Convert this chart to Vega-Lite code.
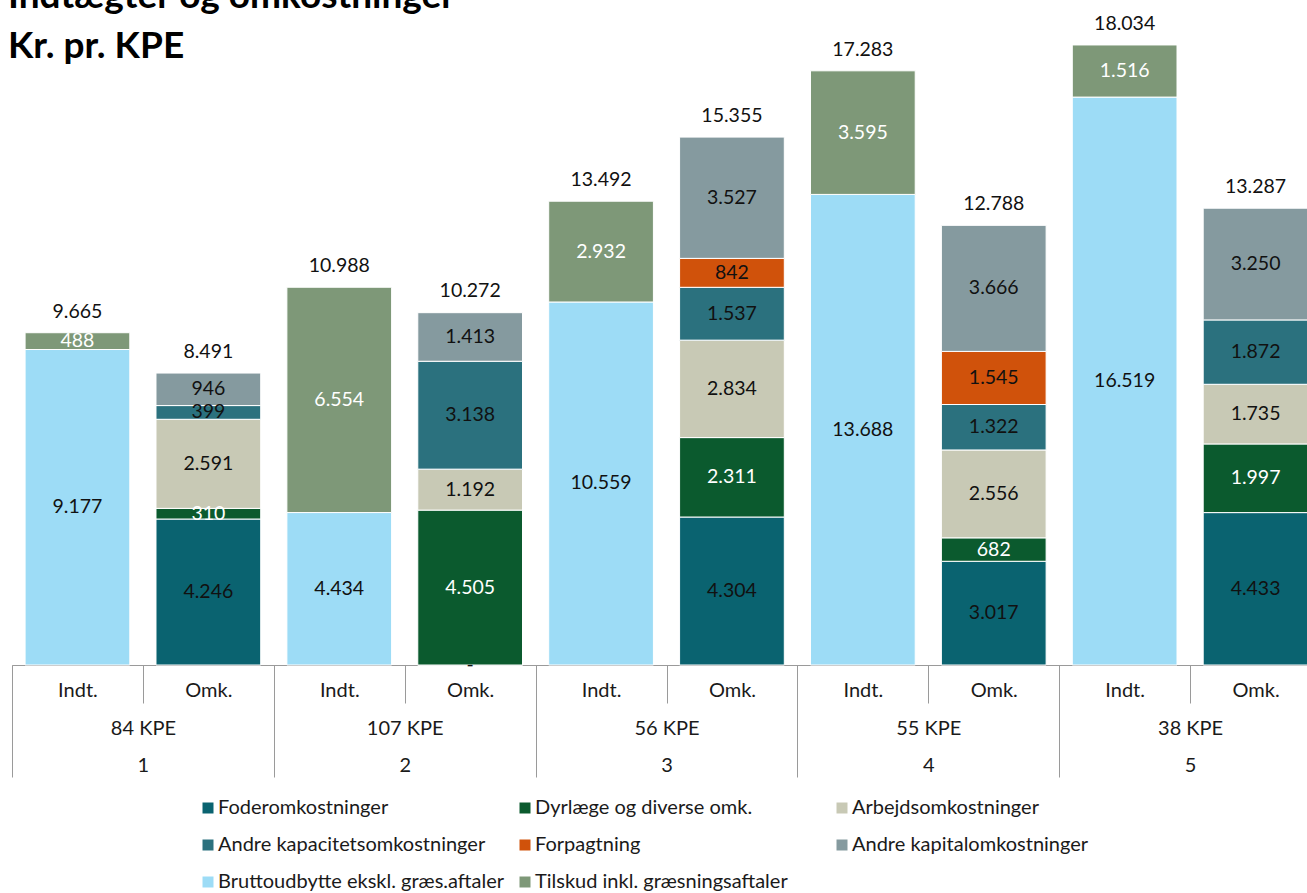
{
  "$schema": "https://vega.github.io/schema/vega-lite/v6.json",
  "width": 1295,
  "height": 665,
  "autosize": {"type": "none"},
  "padding": {"left": 12, "top": 0, "right": 0, "bottom": 228},
  "background": "white",
  "title": {
    "text": ["Indtægter og omkostninger", "Kr. pr. KPE"],
    "anchor": "start",
    "frame": "group",
    "font": "Lato",
    "fontSize": 37,
    "fontWeight": "bold",
    "lineHeight": 50,
    "color": "#000000",
    "baseline": "top",
    "offset": 0,
    "dx": -4,
    "dy": 66
  },
  "datasets": {
    "bars": [
      {"key": "1|Indt.", "post": "Bruttoudbytte ekskl. græs.aftaler", "o": 7, "value": 9177},
      {"key": "1|Indt.", "post": "Tilskud inkl. græsningsaftaler", "o": 8, "value": 488},
      {"key": "1|Omk.", "post": "Foderomkostninger", "o": 1, "value": 4246},
      {"key": "1|Omk.", "post": "Dyrlæge og diverse omk.", "o": 2, "value": 310},
      {"key": "1|Omk.", "post": "Arbejdsomkostninger", "o": 3, "value": 2591},
      {"key": "1|Omk.", "post": "Andre kapacitetsomkostninger", "o": 4, "value": 399},
      {"key": "1|Omk.", "post": "Andre kapitalomkostninger", "o": 6, "value": 946},
      {"key": "2|Indt.", "post": "Bruttoudbytte ekskl. græs.aftaler", "o": 7, "value": 4434},
      {"key": "2|Indt.", "post": "Tilskud inkl. græsningsaftaler", "o": 8, "value": 6554},
      {"key": "2|Omk.", "post": "Foderomkostninger", "o": 1, "value": 0},
      {"key": "2|Omk.", "post": "Dyrlæge og diverse omk.", "o": 2, "value": 4505},
      {"key": "2|Omk.", "post": "Arbejdsomkostninger", "o": 3, "value": 1192},
      {"key": "2|Omk.", "post": "Andre kapacitetsomkostninger", "o": 4, "value": 3138},
      {"key": "2|Omk.", "post": "Andre kapitalomkostninger", "o": 6, "value": 1413},
      {"key": "3|Indt.", "post": "Bruttoudbytte ekskl. græs.aftaler", "o": 7, "value": 10559},
      {"key": "3|Indt.", "post": "Tilskud inkl. græsningsaftaler", "o": 8, "value": 2932},
      {"key": "3|Omk.", "post": "Foderomkostninger", "o": 1, "value": 4304},
      {"key": "3|Omk.", "post": "Dyrlæge og diverse omk.", "o": 2, "value": 2311},
      {"key": "3|Omk.", "post": "Arbejdsomkostninger", "o": 3, "value": 2834},
      {"key": "3|Omk.", "post": "Andre kapacitetsomkostninger", "o": 4, "value": 1537},
      {"key": "3|Omk.", "post": "Forpagtning", "o": 5, "value": 842},
      {"key": "3|Omk.", "post": "Andre kapitalomkostninger", "o": 6, "value": 3527},
      {"key": "4|Indt.", "post": "Bruttoudbytte ekskl. græs.aftaler", "o": 7, "value": 13688},
      {"key": "4|Indt.", "post": "Tilskud inkl. græsningsaftaler", "o": 8, "value": 3595},
      {"key": "4|Omk.", "post": "Foderomkostninger", "o": 1, "value": 3017},
      {"key": "4|Omk.", "post": "Dyrlæge og diverse omk.", "o": 2, "value": 682},
      {"key": "4|Omk.", "post": "Arbejdsomkostninger", "o": 3, "value": 2556},
      {"key": "4|Omk.", "post": "Andre kapacitetsomkostninger", "o": 4, "value": 1322},
      {"key": "4|Omk.", "post": "Forpagtning", "o": 5, "value": 1545},
      {"key": "4|Omk.", "post": "Andre kapitalomkostninger", "o": 6, "value": 3666},
      {"key": "5|Indt.", "post": "Bruttoudbytte ekskl. græs.aftaler", "o": 7, "value": 16519},
      {"key": "5|Indt.", "post": "Tilskud inkl. græsningsaftaler", "o": 8, "value": 1516},
      {"key": "5|Omk.", "post": "Foderomkostninger", "o": 1, "value": 4433},
      {"key": "5|Omk.", "post": "Dyrlæge og diverse omk.", "o": 2, "value": 1997},
      {"key": "5|Omk.", "post": "Arbejdsomkostninger", "o": 3, "value": 1735},
      {"key": "5|Omk.", "post": "Andre kapacitetsomkostninger", "o": 4, "value": 1872},
      {"key": "5|Omk.", "post": "Andre kapitalomkostninger", "o": 6, "value": 3250}
    ],
    "totals": [
      {"key": "1|Indt.", "total": 9665},
      {"key": "1|Omk.", "total": 8491},
      {"key": "2|Indt.", "total": 10988},
      {"key": "2|Omk.", "total": 10272},
      {"key": "3|Indt.", "total": 13492},
      {"key": "3|Omk.", "total": 15355},
      {"key": "4|Indt.", "total": 17283},
      {"key": "4|Omk.", "total": 12788},
      {"key": "5|Indt.", "total": 18034},
      {"key": "5|Omk.", "total": 13287}
    ],
    "groups": [
      {"gruppe": "84 KPE|1"},
      {"gruppe": "107 KPE|2"},
      {"gruppe": "56 KPE|3"},
      {"gruppe": "55 KPE|4"},
      {"gruppe": "38 KPE|5"}
    ]
  },
  "layer": [
    {
      "layer": [
        {
          "data": {"name": "bars"},
          "mark": {"type": "bar", "width": {"band": 0.8}, "stroke": "white", "strokeWidth": 1},
          "encoding": {
            "x": {
              "field": "key", "type": "nominal",
              "scale": {"domain": ["1|Indt.", "1|Omk.", "2|Indt.", "2|Omk.", "3|Indt.", "3|Omk.", "4|Indt.", "4|Omk.", "5|Indt.", "5|Omk."], "range": [0, 1309], "paddingInner": 0, "paddingOuter": 0},
              "axis": {
                "orient": "bottom", "title": null,
                "labelExpr": "datum.value ? split(datum.value, '|')[1] : ''",
                "labelFont": "Lato", "labelFontSize": 20, "labelColor": "#1a1a1a",
                "labelAngle": 0, "labelOverlap": false, "labelFlush": false, "labelBound": false,
                "labelPadding": -23,
                "tickBand": "extent", "tickSize": 38, "tickColor": "#9a9a9a", "tickWidth": 1,
                "domain": true, "domainColor": "#9a9a9a", "domainWidth": 1, "grid": false
              }
            },
            "y": {
              "field": "value", "type": "quantitative", "stack": "zero",
              "scale": {"domain": [0, 19343], "nice": false, "zero": true},
              "axis": null
            },
            "color": {
              "field": "post", "type": "nominal",
              "scale": {
                "domain": ["Foderomkostninger", "Dyrlæge og diverse omk.", "Arbejdsomkostninger", "Andre kapacitetsomkostninger", "Forpagtning", "Andre kapitalomkostninger", "Bruttoudbytte ekskl. græs.aftaler", "Tilskud inkl. græsningsaftaler"],
                "range": ["#0a6370", "#0b5a2e", "#c8c9b5", "#2b717e", "#d0520b", "#859a9f", "#9ddcf6", "#7e9878"]
              },
              "legend": {
                "orient": "none", "legendX": 186, "legendY": 798,
                "columns": 3, "gridAlign": "all", "columnPadding": 10, "rowPadding": 17,
                "direction": "horizontal",
                "symbolType": "square", "symbolSize": 121, "symbolStrokeWidth": 0,
                "labelFont": "Lato", "labelFontSize": 20, "labelColor": "#1a1a1a",
                "labelLimit": 400, "labelOffset": 0, "title": null, "padding": 0
              }
            },
            "order": {"field": "o", "type": "quantitative"}
          }
        },
        {
          "data": {"name": "bars"},
          "mark": {"type": "text", "font": "Lato", "fontSize": 19.5, "baseline": "middle", "align": "center"},
          "encoding": {
            "x": {"field": "key", "type": "nominal"},
            "y": {"field": "value", "type": "quantitative", "stack": "zero", "bandPosition": 0.5},
            "detail": {"field": "post", "type": "nominal"},
            "order": {"field": "o", "type": "quantitative"},
            "text": {"field": "value", "type": "quantitative", "format": ",d", "condition": {"test": "datum.value === 0", "value": "-"}},
            "color": {
              "condition": {"test": "datum.post === 'Tilskud inkl. græsningsaftaler' || datum.post === 'Dyrlæge og diverse omk.'", "value": "#ffffff"},
              "value": "#111111"
            }
          }
        },
        {
          "data": {"name": "totals"},
          "mark": {"type": "text", "font": "Lato", "fontSize": 19.5, "baseline": "alphabetic", "align": "center", "dy": -15, "color": "#111111"},
          "encoding": {
            "x": {"field": "key", "type": "nominal"},
            "y": {"field": "total", "type": "quantitative"},
            "text": {"field": "total", "type": "quantitative", "format": ",d"}
          }
        }
      ]
    },
    {
      "data": {"name": "groups"},
      "mark": {"type": "rule", "opacity": 0},
      "encoding": {
        "x": {
          "field": "gruppe", "type": "nominal",
          "scale": {"domain": ["84 KPE|1", "107 KPE|2", "56 KPE|3", "55 KPE|4", "38 KPE|5"], "range": [0, 1309], "paddingInner": 0, "paddingOuter": 0},
          "axis": {
            "orient": "bottom", "title": null,
            "labelExpr": "datum.value ? split(datum.value, '|') : ''",
            "labelFont": "Lato", "labelFontSize": 20, "labelColor": "#1a1a1a",
            "labelLineHeight": 37,
            "labelAngle": 0, "labelOverlap": false, "labelFlush": false, "labelBound": false,
            "labelPadding": -59,
            "tickBand": "extent", "tickSize": 112, "tickColor": "#9a9a9a", "tickWidth": 1,
            "domain": false, "grid": false
          }
        }
      }
    }
  ],
  "resolve": {"scale": {"x": "independent"}, "axis": {"x": "independent"}},
  "config": {
    "view": {"stroke": null},
    "locale": {"number": {"decimal": ",", "thousands": ".", "grouping": [3], "currency": ["", " kr."]}}
  }
}
